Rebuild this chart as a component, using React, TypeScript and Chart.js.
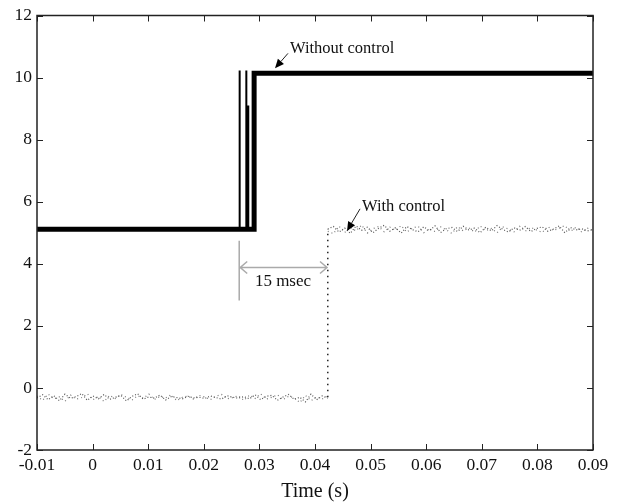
import React, { useEffect, useRef } from "react";
import { Chart, registerables } from "chart.js";

Chart.register(...registerables);

const X_TICKS = [-0.01, 0, 0.01, 0.02, 0.03, 0.04, 0.05, 0.06, 0.07, 0.08, 0.09];
const X_TICK_LABELS = ["-0.01", "0", "0.01", "0.02", "0.03", "0.04", "0.05", "0.06", "0.07", "0.08", "0.09"];
const Y_TICKS = [-2, 0, 2, 4, 6, 8, 10, 12];
const Y_TICK_LABELS = ["-2", "0", "2", "4", "6", "8", "10", "12"];
const X_TITLE = "Time (s)";

// "Without control" main trace (step)
const withoutX = [-0.01, 0.02905, 0.02905, 0.09];
const withoutY = [5.11, 5.11, 10.14, 10.14];

// transient switching spikes of "Without control" (null = gap)
const spikeX = [0.02645, 0.02645, 0.02645, 0.02765, 0.02765, 0.02765, 0.0280, 0.0280];
const spikeY = [5.11, 10.23, null, 5.11, 10.23, null, 5.11, 9.1];

// "With control": before and after the step at t = 0.0423
const stepT = 0.0423;
const withLowY = [
  -0.32, -0.22, -0.38, -0.25, -0.41, -0.2, -0.33, -0.28, -0.18, -0.4, -0.26, -0.35, -0.21, -0.37,
  -0.3, -0.24, -0.42, -0.27, -0.19, -0.36, -0.29, -0.33, -0.23, -0.39, -0.28, -0.31, -0.35, -0.27,
  -0.32, -0.3, -0.34, -0.26, -0.31, -0.36, -0.25, -0.3, -0.33, -0.28, -0.35, -0.22, -0.38, -0.27,
  -0.24, -0.4, -0.29, -0.21, -0.37, -0.3, -0.45, -0.2, -0.38, -0.26, -0.33,
];
const withLowY2 = [
  -0.26, -0.4, -0.2, -0.35, -0.29, -0.43, -0.23, -0.36, -0.31, -0.19, -0.38, -0.27, -0.44, -0.24,
  -0.34, -0.21, -0.3, -0.39, -0.25, -0.33, -0.2, -0.37, -0.28, -0.32, -0.22, -0.41, -0.3, -0.26,
  -0.36, -0.24, -0.29, -0.38, -0.27, -0.21, -0.35, -0.31, -0.25, -0.4, -0.23, -0.34, -0.19, -0.36,
  -0.3, -0.22, -0.38, -0.27, -0.32, -0.47, -0.24, -0.41, -0.29, -0.36, -0.25,
];
const withHighY = [
  5.12, 5.2, 5.02, 5.15, 4.98, 5.22, 5.08, 5.18, 5.0, 5.14, 5.24, 5.05, 5.16, 4.99, 5.2, 5.1,
  5.03, 5.19, 5.07, 5.22, 5.01, 5.13, 5.17, 5.04, 5.21, 5.09, 5.15, 5.0, 5.18, 5.06, 5.23, 5.11,
  5.02, 5.16, 5.08, 5.2, 5.04, 5.14, 5.19, 5.05, 5.12, 5.22, 5.0, 5.17, 5.09, 5.13, 5.06, 5.1,
];
const withHighY2 = [
  5.05, 4.97, 5.21, 5.01, 5.17, 5.06, 5.25, 4.99, 5.13, 5.2, 5.03, 5.18, 5.08, 5.23, 5.02, 5.15,
  5.21, 5.0, 5.12, 5.04, 5.19, 5.09, 4.98, 5.2, 5.06, 5.16, 5.02, 5.22, 5.07, 5.14, 5.0, 5.19,
  5.12, 5.03, 5.21, 5.05, 5.17, 5.09, 5.01, 5.2, 5.07, 5.15, 5.23, 5.04, 5.18, 5.02, 5.15, 5.08,
];
const withJumpX = [stepT, stepT];
const withJumpY = [-0.3, 5.12];

// annotations (data coordinates)
const ANN_WITHOUT = { text: "Without control", x: 0.0355, y: 10.94, fromX: 0.03514, fromY: 10.78, toX: 0.03281, toY: 10.3 };
const ANN_WITH = { text: "With control", x: 0.04845, y: 5.83, fromX: 0.0481, fromY: 5.77, toX: 0.04576, toY: 5.06 };
const ANN_DELAY = { text: "15 msec", x: 0.03424, y: 3.43, lineX: 0.02637, lineY0: 4.74, lineY1: 2.82, arrowY: 3.88, arrowX0: 0.02655, arrowX1: 0.04216 };

const FONT = "'Liberation Serif', 'Times New Roman', serif";

function spread(values: number[], x0: number, x1: number) {
  const n = values.length;
  return values.map((v, i) => ({ x: x0 + ((x1 - x0) * i) / (n - 1), y: v }));
}
function zip(xs: number[], ys: (number | null)[]) {
  return xs.map((x, i) => ({ x, y: ys[i] }));
}

const framePlugin = {
  id: "frameAndAnnotations",
  afterDatasetsDraw(chart: any) {
    const { ctx, chartArea, scales } = chart;
    const { left, right, top, bottom } = chartArea;
    const xs = scales.x;
    const ys = scales.y;
    const px = (v: number) => xs.getPixelForValue(v);
    const py = (v: number) => ys.getPixelForValue(v);
    ctx.save();
    ctx.strokeStyle = "#222";
    ctx.lineWidth = 1;
    ctx.beginPath();
    X_TICKS.forEach((v) => {
      const p = Math.round(px(v)) + 0.5;
      ctx.moveTo(p, bottom);
      ctx.lineTo(p, bottom - 6);
      ctx.moveTo(p, top);
      ctx.lineTo(p, top + 6);
    });
    Y_TICKS.forEach((v) => {
      const p = Math.round(py(v)) + 0.5;
      ctx.moveTo(left, p);
      ctx.lineTo(left + 6, p);
      ctx.moveTo(right, p);
      ctx.lineTo(right - 6, p);
    });
    ctx.stroke();
    ctx.lineWidth = 1.5;
    ctx.strokeStyle = "#222";
    ctx.strokeRect(left, top, right - left, bottom - top);

    ctx.fillStyle = "#111";
    ctx.font = `16.5px ${FONT}`;
    ctx.textBaseline = "middle";
    ctx.textAlign = "left";
    ctx.fillText(ANN_WITHOUT.text, px(ANN_WITHOUT.x), py(ANN_WITHOUT.y));
    ctx.fillText(ANN_WITH.text, px(ANN_WITH.x), py(ANN_WITH.y));
    ctx.textAlign = "center";
    ctx.font = `17px ${FONT}`;
    ctx.fillText(ANN_DELAY.text, px(ANN_DELAY.x), py(ANN_DELAY.y));

    const blackArrow = (a: any) => {
      const x0 = px(a.fromX), y0 = py(a.fromY), x1 = px(a.toX), y1 = py(a.toY);
      const ang = Math.atan2(y1 - y0, x1 - x0);
      const L = 9, W = 4;
      ctx.strokeStyle = "#222";
      ctx.lineWidth = 1;
      ctx.beginPath();
      ctx.moveTo(x0, y0);
      ctx.lineTo(x1 - L * Math.cos(ang), y1 - L * Math.sin(ang));
      ctx.stroke();
      ctx.fillStyle = "#000";
      ctx.beginPath();
      ctx.moveTo(x1, y1);
      ctx.lineTo(x1 - L * Math.cos(ang) + W * Math.sin(ang), y1 - L * Math.sin(ang) - W * Math.cos(ang));
      ctx.lineTo(x1 - L * Math.cos(ang) - W * Math.sin(ang), y1 - L * Math.sin(ang) + W * Math.cos(ang));
      ctx.closePath();
      ctx.fill();
    };
    blackArrow(ANN_WITHOUT);
    blackArrow(ANN_WITH);

    ctx.strokeStyle = "#aaa";
    ctx.lineWidth = 1.5;
    ctx.beginPath();
    const lx = px(ANN_DELAY.lineX);
    ctx.moveTo(lx, py(ANN_DELAY.lineY0));
    ctx.lineTo(lx, py(ANN_DELAY.lineY1));
    const ay = py(ANN_DELAY.arrowY);
    const ax0 = px(ANN_DELAY.arrowX0), ax1 = px(ANN_DELAY.arrowX1);
    ctx.moveTo(ax0, ay);
    ctx.lineTo(ax1, ay);
    ctx.moveTo(ax0 + 7, ay - 6);
    ctx.lineTo(ax0, ay);
    ctx.lineTo(ax0 + 7, ay + 6);
    ctx.moveTo(ax1 - 7, ay - 6);
    ctx.lineTo(ax1, ay);
    ctx.lineTo(ax1 - 7, ay + 6);
    ctx.stroke();
    ctx.restore();
  },
};

const noisy = (data: any, dash: number[], color: string) => ({
  data,
  showLine: true,
  borderColor: color,
  borderWidth: 1.2,
  borderDash: dash,
  pointRadius: 0,
});

export default function App() {
  const ref = useRef<HTMLCanvasElement | null>(null);
  useEffect(() => {
    document.body.style.margin = "0";
    if (!ref.current) return;
    const chart = new Chart(ref.current, {
      type: "scatter",
      data: {
        datasets: [
          { label: "With control (before)", ...noisy(spread(withLowY, -0.01, stepT), [1, 2], "#555") },
          { label: "With control (before, 2)", ...noisy(spread(withLowY2, -0.01, stepT), [1, 3], "#777") },
          {
            label: "With control (step)",
            data: zip(withJumpX, withJumpY),
            showLine: true,
            borderColor: "#222",
            borderWidth: 1.5,
            borderDash: [1.5, 4.5],
            pointRadius: 0,
          },
          { label: "With control (after)", ...noisy(spread(withHighY, stepT, 0.09), [1, 2], "#555") },
          { label: "With control (after, 2)", ...noisy(spread(withHighY2, stepT, 0.09), [1, 3], "#777") },
          {
            label: "Without control spikes",
            data: zip(spikeX, spikeY),
            showLine: true,
            spanGaps: false,
            borderColor: "#000",
            borderWidth: 2,
            pointRadius: 0,
          },
          {
            label: "Without control",
            data: zip(withoutX, withoutY),
            showLine: true,
            borderColor: "#000",
            borderWidth: 5,
            borderJoinStyle: "miter",
            pointRadius: 0,
          },
        ],
      },
      options: {
        responsive: false,
        animation: false,
        layout: { padding: { top: 14, right: 36, bottom: 0, left: 0 } },
        plugins: { legend: { display: false }, tooltip: { enabled: false } },
        scales: {
          x: {
            type: "linear",
            min: -0.01,
            max: 0.09,
            afterBuildTicks: (s: any) => {
              s.ticks = X_TICKS.map((v) => ({ value: v }));
            },
            afterFit: (s: any) => {
              s.height = 54;
            },
            grid: { display: false, drawTicks: false },
            border: { display: false },
            ticks: {
              padding: 5,
              color: "#111",
              font: { family: FONT, size: 17.5 },
              maxRotation: 0,
              autoSkip: false,
              callback: (v: any) => {
                const i = X_TICKS.findIndex((t) => Math.abs(t - v) < 1e-9);
                return i >= 0 ? X_TICK_LABELS[i] : "";
              },
            },
            title: {
              display: true,
              text: X_TITLE,
              color: "#111",
              font: { family: FONT, size: 20 },
              padding: 0,
            },
          },
          y: {
            type: "linear",
            min: -2,
            max: 12,
            afterBuildTicks: (s: any) => {
              s.ticks = Y_TICKS.map((v) => ({ value: v }));
            },
            afterFit: (s: any) => {
              s.width = 37;
            },
            grid: { display: false, drawTicks: false },
            border: { display: false },
            ticks: {
              padding: 5,
              color: "#111",
              font: { family: FONT, size: 17.5 },
              autoSkip: false,
              callback: (v: any) => {
                const i = Y_TICKS.findIndex((t) => Math.abs(t - v) < 1e-9);
                return i >= 0 ? Y_TICK_LABELS[i] : "";
              },
            },
          },
        },
      },
      plugins: [framePlugin],
    } as any);
    return () => chart.destroy();
  }, []);
  return <canvas ref={ref} width={629} height={504} style={{ display: "block", width: 629, height: 504 }} />;
}
